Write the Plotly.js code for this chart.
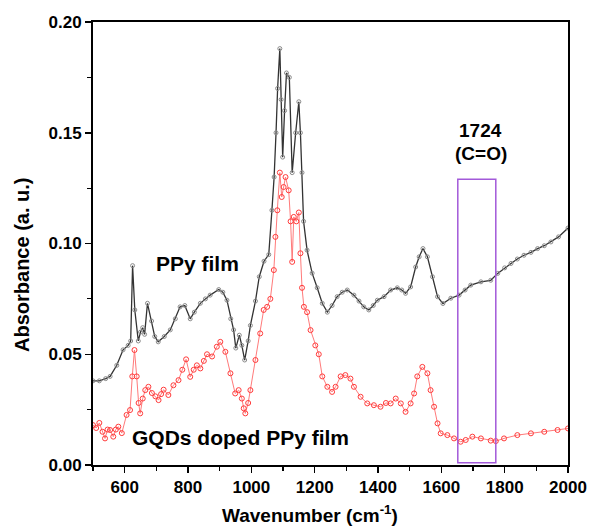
<!DOCTYPE html>
<html>
<head>
<meta charset="utf-8">
<script src="https://cdn.plot.ly/plotly-3.0.1.min.js"></script>
<style>html,body{margin:0;padding:0;background:#fff;}#chart{width:590px;height:530px;}</style>
</head>
<body>
<div id="chart"></div>
<script>
// PPy film spectrum
const ppyWavenumber = [500,520,540,554,575,595,611,619,625,632,643,650,657,663,672,685,695,706,725,744,760,775,790,807,820,839,855,870,897,910,923,935,944,951,962,970,979,990,997,1013,1025,1040,1055,1065,1072,1078,1083,1090,1094,1099,1105,1111,1120,1129,1140,1150,1155,1160,1165,1176,1192,1208,1224,1240,1255,1271,1287,1303,1324,1340,1355,1371,1385,1398,1419,1440,1461,1475,1487,1503,1519,1530,1542,1556,1572,1588,1605,1630,1656,1675,1693,1725,1756,1778,1800,1820,1840,1861,1883,1904,1925,1946,1970,2000];
const ppyAbsorbance = [0.038,0.038,0.039,0.040,0.045,0.052,0.054,0.056,0.090,0.070,0.056,0.060,0.062,0.059,0.073,0.065,0.058,0.0556,0.058,0.061,0.066,0.0714,0.072,0.066,0.069,0.073,0.075,0.0767,0.0792,0.078,0.0744,0.066,0.061,0.0528,0.0586,0.054,0.0474,0.056,0.063,0.074,0.085,0.092,0.095,0.115,0.130,0.150,0.170,0.188,0.165,0.139,0.160,0.177,0.175,0.132,0.150,0.164,0.150,0.132,0.110,0.097,0.0866,0.080,0.073,0.069,0.072,0.076,0.078,0.079,0.0767,0.074,0.0714,0.070,0.072,0.0744,0.076,0.079,0.080,0.079,0.0775,0.0804,0.0894,0.094,0.0977,0.094,0.085,0.076,0.0729,0.0753,0.0767,0.079,0.0812,0.0827,0.0834,0.0865,0.089,0.091,0.093,0.0947,0.096,0.0977,0.099,0.1007,0.103,0.107];

// GQDs doped PPy film spectrum
const gqdWavenumber = [500,510,520,530,538,546,554,564,572,580,591,606,617,624,631,638,644,649,657,665,675,686,697,707,715,723,738,754,770,782,794,807,818,828,839,850,860,876,891,902,918,934,949,960,970,976,981,990,997,1013,1028,1039,1050,1060,1071,1076,1082,1090,1096,1102,1108,1118,1124,1129,1134,1142,1150,1155,1160,1166,1176,1187,1202,1213,1224,1240,1255,1266,1282,1297,1313,1324,1345,1366,1387,1408,1425,1440,1456,1472,1487,1503,1514,1524,1540,1556,1566,1577,1588,1598,1619,1640,1661,1677,1698,1725,1756,1772,1798,1840,1883,1925,1967,2000];
const gqdAbsorbance = [0.018,0.0167,0.019,0.015,0.012,0.016,0.0158,0.0128,0.016,0.0173,0.0144,0.0226,0.0248,0.040,0.0519,0.040,0.028,0.0233,0.030,0.0338,0.0353,0.0325,0.031,0.0293,0.032,0.034,0.0316,0.036,0.0383,0.043,0.0477,0.0398,0.043,0.045,0.0436,0.047,0.050,0.049,0.0534,0.0556,0.0511,0.0414,0.0323,0.0338,0.030,0.0256,0.0233,0.028,0.0338,0.0474,0.0594,0.070,0.0714,0.075,0.088,0.103,0.115,0.132,0.121,0.1255,0.130,0.124,0.110,0.0917,0.112,0.110,0.114,0.0956,0.080,0.0714,0.069,0.0609,0.054,0.050,0.040,0.0353,0.033,0.0353,0.040,0.0406,0.039,0.0353,0.0308,0.0278,0.027,0.0263,0.028,0.0278,0.030,0.0278,0.024,0.0278,0.0323,0.040,0.0443,0.0414,0.0338,0.0263,0.0188,0.0143,0.0135,0.012,0.0105,0.0113,0.0128,0.012,0.011,0.0108,0.012,0.0135,0.0143,0.015,0.0158,0.0165];

// C=O band window
const coBand = [1652, 1772];
const coBandHeight = [0.001, 0.129];

const xTickVals = [600,800,1000,1200,1400,1600,1800,2000];
const yTickVals = [0.00,0.05,0.10,0.15,0.20];

const font = "Arial, 'Liberation Sans', sans-serif";
const bold = (size) => ({family: font, size: size, color: '#000', weight: 'bold'});

const traces = [
  {x: ppyWavenumber, y: ppyAbsorbance, mode: 'lines+markers', type: 'scatter',
   line: {color: '#333333', width: 1.3},
   marker: {symbol: 'circle-open', size: 4, color: '#8a8a8a', line: {width: 1}}},
  {x: gqdWavenumber, y: gqdAbsorbance, mode: 'lines+markers', type: 'scatter',
   line: {color: '#ff7a7a', width: 1},
   marker: {symbol: 'circle-open', size: 5, color: '#ff3b3b', line: {width: 1}}}
];

const layout = {
  width: 590, height: 530,
  margin: {l: 93, r: 22, t: 22, b: 65},
  paper_bgcolor: '#fff', plot_bgcolor: '#fff',
  showlegend: false,
  font: {family: font, color: '#000'},
  xaxis: {
    range: [500, 2000], tickvals: xTickVals, ticktext: xTickVals.map(String),
    ticks: 'outside', ticklen: 6, tickwidth: 1.5, tickcolor: '#000',
    minor: {dtick: 100, tick0: 500, ticks: 'outside', ticklen: 4, tickwidth: 1.2, tickcolor: '#000'},
    showline: true, linecolor: '#000', linewidth: 2, mirror: true,
    showgrid: false, zeroline: false,
    tickfont: bold(17)
  },
  yaxis: {
    range: [0, 0.2], tickvals: yTickVals, tickformat: '.2f',
    ticks: 'outside', ticklen: 6, tickwidth: 1.5, tickcolor: '#000',
    minor: {dtick: 0.025, tick0: 0, ticks: 'outside', ticklen: 4, tickwidth: 1.2, tickcolor: '#000'},
    showline: true, linecolor: '#000', linewidth: 2, mirror: true,
    showgrid: false, zeroline: false,
    tickfont: bold(17)
  },
  shapes: [
    {type: 'rect', xref: 'x', yref: 'y', x0: coBand[0], x1: coBand[1], y0: coBandHeight[0], y1: coBandHeight[1],
     line: {color: '#a259d9', width: 1.5}, fillcolor: 'rgba(0,0,0,0)'}
  ],
  annotations: [
    {xref: 'paper', yref: 'paper', x: 0.457, y: -0.111, xanchor: 'center', yanchor: 'middle',
     text: 'Wavenumber (cm<sup>-1</sup>)', showarrow: false, font: bold(19)},
    {xref: 'paper', yref: 'paper', x: -0.149, y: 0.452, xanchor: 'center', yanchor: 'middle', textangle: -90,
     text: 'Absorbance (a. u.)', showarrow: false, font: bold(20)},
    {xref: 'x', yref: 'y', x: 829, y: 0.0911, text: 'PPy film', showarrow: false, font: bold(21)},
    {xref: 'x', yref: 'y', x: 965, y: 0.0122, text: 'GQDs doped PPy film', showarrow: false, font: bold(21)},
    {xref: 'x', yref: 'y', x: 1724, y: 0.1511, text: '1724', showarrow: false, font: bold(19)},
    {xref: 'x', yref: 'y', x: 1724, y: 0.1407, text: '(C=O)', showarrow: false, font: bold(19)}
  ]
};

Plotly.newPlot('chart', traces, layout, {displayModeBar: false, staticPlot: true});
</script>
</body>
</html>
